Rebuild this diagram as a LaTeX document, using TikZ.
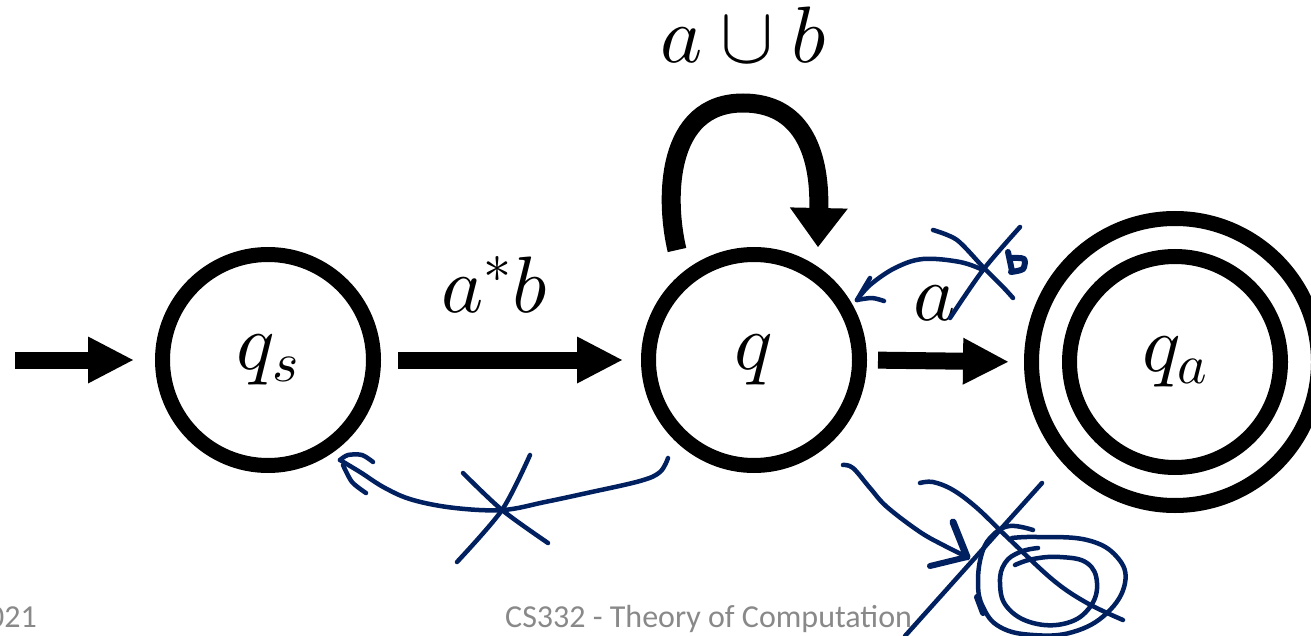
\documentclass[tikz,border=0pt]{standalone}
\usepackage{fontspec}
\DeclareFontShape{OML}{cmm}{m}{it}{<->cmmi10}{}
\DeclareFontShape{OMS}{cmsy}{m}{n}{<->cmsy10}{}
\DeclareFontShape{OT1}{cmr}{m}{n}{<->cmr10}{}
\DeclareFontShape{OMX}{cmex}{m}{n}{<->cmex10}{}
\newfontfamily\footfont{Carlito}
\usetikzlibrary{arrows.meta}
\definecolor{ink}{RGB}{0,32,96}
\definecolor{footgray}{RGB}{137,137,137}
\begin{document}
\begin{tikzpicture}[x=1pt,y=-1pt,
  state/.style={circle,draw,line width=15pt,minimum size=211pt,inner sep=0pt,font=\fontsize{80}{96}\selectfont},
  ring/.style={circle,draw,line width=15pt,minimum size=287pt,inner sep=0pt},
  arr/.style={line width=17pt,-{Triangle[length=45pt,width=47pt,line width=0pt]}},
  looparr/.style={line width=19pt,-{Triangle[length=39pt,width=58pt,line width=0pt]}},
  lab/.style={anchor=base,inner sep=0pt,font=\fontsize{80}{96}\selectfont},
  pen/.style={draw=ink,line width=4.5pt,line cap=round,line join=round},
  foot/.style={font=\footfont\fontsize{32}{38}\selectfont,text=footgray,inner sep=0pt,anchor=base}]
\useasboundingbox[fill=white] (0,0) rectangle (1311,636);

% states
\node[state] (qs) at (268,360) {$q_s$};
\node[state] (q) at (754,360) {$q$};
\node[state] (qa) at (1175,362) {$q_a$};
\node[ring] (qaout) at (qa.center) {};

% arrows
\coordinate (start) at (15,360);
\draw[arr,shorten >=22pt] (start) -- (qs.west);
\draw[arr,shorten <=17pt,shorten >=19pt] (qs.east) -- (q.west);
\draw[arr,shorten <=11pt,shorten >=16pt] (q.east) -- (qaout.west);
\draw[looparr] ([shift={(-77,-110)}]q.center)
  .. controls ([shift={(-89,-160)}]q.center) and ([shift={(-89,-257)}]q.center) .. ([shift={(-11,-257)}]q.center)
  .. controls ([shift={(46,-257)}]q.center) and ([shift={(66,-210)}]q.center) .. ([shift={(64,-113)}]q.center);

% labels
\node[lab] (l1) at (494,312) {$a^*b$};
\node[lab] (l2) at (743,63) {$a\cup b$};
\node[lab] (l3) at (935,320) {$a$};

% footer
\node[foot,anchor=base east] (f1) at (37,627) {021};
\node[foot,anchor=base west] (f2) at (505,627) {CS332 - Theory of Computation};

% hand-drawn marks
% bottom centre arrow towards q_s, crossed
\draw[pen] plot[smooth,tension=0.6] coordinates {(668,458) (660,472) (640,481) (587,493) (545,502) (503,510) (455,508) (413,500) (385,488) (360,472) (340,460)};
\draw[pen] plot[smooth] coordinates {(373,462) (362,455) (348,455) (340,460)};
\draw[pen] plot[smooth] coordinates {(343,465) (352,482) (366,493)};
\draw[pen] plot[smooth] coordinates {(463,473) (502,510) (548,543)};
\draw[pen] plot[smooth] coordinates {(530,455) (502,510) (457,562)};

% near label a : crossed b with arrow to q
\draw[pen] plot[smooth,tension=0.6] coordinates {(983,270) (960,262) (923,259) (895,268) (870,285) (857,300)};
\draw[pen] plot[smooth] coordinates {(857,300) (864,288) (870,278)};
\draw[pen] plot[smooth] coordinates {(857,300) (872,298) (884,301)};
\draw[pen] plot[smooth] coordinates {(933,230) (957,240) (983,267) (1003,287) (1013,298)};
\draw[pen] plot[smooth] coordinates {(1020,227) (983,270) (950,318)};
\draw[pen,line width=6pt] (1008,252) -- (1012,271);
\draw[pen,line width=6pt] plot[smooth] coordinates {(1012,258) (1024,259) (1023,269) (1011,272)};

% bottom right : arrow to crossed scribble
\draw[pen] plot[smooth,tension=0.6] coordinates {(843,465) (853,468) (870,488) (887,507) (920,532) (945,546) (967,557)};
\draw[pen,line width=7pt] (953,522) -- (967,557);
\draw[pen,line width=6pt] (967,557) -- (930,566);
\draw[pen] plot[smooth,tension=0.6] coordinates {(920,483) (933,482) (953,490) (977,508) (1007,537) (1053,580) (1087,603) (1123,620)};
\draw[pen] (1042,483) -- (905,636);
\draw[pen] plot[smooth,tension=0.7] coordinates {(1033,530) (1010,526) (993,535) (982,553) (978,583) (983,607) (1000,627) (1033,635) (1073,632) (1107,613) (1125,583) (1117,557) (1087,540) (1037,537) (1012,538)};
\draw[pen] plot[smooth,tension=0.7] coordinates {(1038,548) (1020,552) (1005,563) (1000,583) (1007,607) (1033,623) (1067,623) (1090,607) (1097,583) (1087,563) (1060,557) (1033,559) (1015,565)};
\draw[pen,line width=6pt] (977,597) -- (983,613);
\end{tikzpicture}
\end{document}
